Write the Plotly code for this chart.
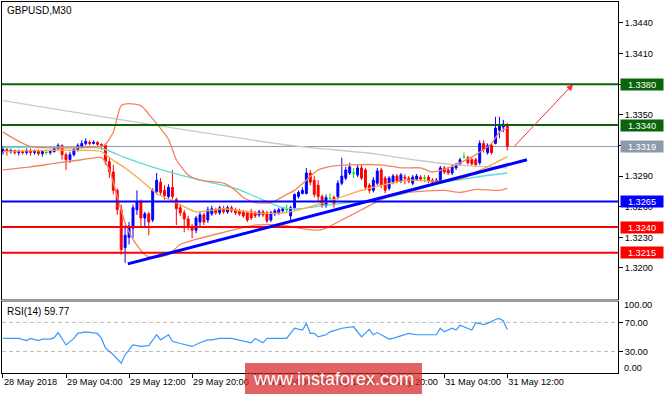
import pandas as pd
import plotly.graph_objects as go

chart_title = "GBPUSD,M30"
rsi_title = "RSI(14) 59.77"
first_bar = "2018-05-28 20:00"

# ---- OHLC (M30 bars) ----
open_ = [1.3314, 1.3316, 1.3314, 1.3315, 1.3313, 1.3314, 1.3313, 1.3315, 1.3313, 1.3314,
         1.3312, 1.3313, 1.3313, 1.3314, 1.3317, 1.3320, 1.3311, 1.3306, 1.3311, 1.3316,
         1.3319, 1.3322, 1.3323, 1.3322, 1.3323, 1.3321, 1.3320, 1.3304, 1.3294, 1.3276,
         1.3257, 1.3220, 1.3230, 1.3239, 1.3257, 1.3265, 1.3249, 1.3253, 1.3247, 1.3275,
         1.3284, 1.3276, 1.3270, 1.3279, 1.3267, 1.3259, 1.3254, 1.3248, 1.3240, 1.3237,
         1.3245, 1.3252, 1.3247, 1.3253, 1.3257, 1.3254, 1.3258, 1.3255, 1.3259, 1.3257,
         1.3256, 1.3255, 1.3254, 1.3255, 1.3254, 1.3252, 1.3255, 1.3254, 1.3247, 1.3253,
         1.3254, 1.3256, 1.3257, 1.3251, 1.3259, 1.3270, 1.3273, 1.3273, 1.3293, 1.3286,
         1.3281, 1.3270, 1.3261, 1.3268, 1.3269, 1.3270, 1.3283, 1.3288, 1.3293, 1.3293,
         1.3291, 1.3298, 1.3296, 1.3281, 1.3276, 1.3283, 1.3296, 1.3288, 1.3278, 1.3284,
         1.3290, 1.3285, 1.3289, 1.3288, 1.3283, 1.3287, 1.3289, 1.3288, 1.3289, 1.3286,
         1.3284, 1.3285, 1.3298, 1.3296, 1.3293, 1.3298, 1.3302, 1.3309, 1.3308, 1.3306,
         1.3306, 1.3303, 1.3322, 1.3313, 1.3320, 1.3322, 1.3335, 1.3338, 1.3340]
close_ = [1.3316, 1.3314, 1.3315, 1.3313, 1.3314, 1.3313, 1.3315, 1.3313, 1.3314, 1.3312,
          1.3314, 1.3313, 1.3314, 1.3317, 1.3320, 1.3311, 1.3306, 1.3311, 1.3316, 1.3320,
          1.3322, 1.3324, 1.3322, 1.3323, 1.3321, 1.3320, 1.3304, 1.3294, 1.3276, 1.3257,
          1.3218, 1.3232, 1.3241, 1.3259, 1.3265, 1.3249, 1.3253, 1.3245, 1.3276, 1.3286,
          1.3274, 1.3271, 1.3279, 1.3270, 1.3258, 1.3254, 1.3248, 1.3240, 1.3237, 1.3249,
          1.3252, 1.3245, 1.3257, 1.3258, 1.3254, 1.3259, 1.3255, 1.3259, 1.3256, 1.3254,
          1.3253, 1.3251, 1.3247, 1.3249, 1.3251, 1.3255, 1.3252, 1.3246, 1.3254, 1.3256,
          1.3257, 1.3258, 1.3257, 1.3259, 1.3272, 1.3274, 1.3276, 1.3293, 1.3284, 1.3272,
          1.3270, 1.3261, 1.3269, 1.3268, 1.3262, 1.3283, 1.3290, 1.3296, 1.3299, 1.3293,
          1.3298, 1.3288, 1.3279, 1.3276, 1.3286, 1.3295, 1.3281, 1.3276, 1.3288, 1.3290,
          1.3285, 1.3291, 1.3288, 1.3285, 1.3289, 1.3290, 1.3287, 1.3288, 1.3285, 1.3284,
          1.3286, 1.3298, 1.3294, 1.3293, 1.3299, 1.3301, 1.3306, 1.3309, 1.3303, 1.3302,
          1.3301, 1.3322, 1.3316, 1.3320, 1.3313, 1.3337, 1.3340, 1.3341, 1.3319]
high_ = [1.3319, 1.3318, 1.3317, 1.3316, 1.3316, 1.3315, 1.3317, 1.3317, 1.3316, 1.3316,
         1.3315, 1.3316, 1.3316, 1.3319, 1.3322, 1.3321, 1.3313, 1.3314, 1.3318, 1.3322,
         1.3325, 1.3327, 1.3325, 1.3325, 1.3324, 1.3322, 1.3322, 1.3308, 1.3301, 1.3278,
         1.3262, 1.3242, 1.3245, 1.3262, 1.3276, 1.3267, 1.3255, 1.3255, 1.3278, 1.3293,
         1.3288, 1.3281, 1.3282, 1.3296, 1.3269, 1.3262, 1.3257, 1.3251, 1.3243, 1.3251,
         1.3255, 1.3254, 1.3260, 1.3261, 1.3259, 1.3261, 1.3261, 1.3261, 1.3261, 1.3259,
         1.3258, 1.3257, 1.3256, 1.3258, 1.3256, 1.3257, 1.3257, 1.3256, 1.3256, 1.3258,
         1.3259, 1.3260, 1.3262, 1.3261, 1.3273, 1.3276, 1.3279, 1.3298, 1.3296, 1.3290,
         1.3286, 1.3272, 1.3272, 1.3273, 1.3271, 1.3286, 1.3308, 1.3299, 1.3303, 1.3298,
         1.3301, 1.3301, 1.3298, 1.3283, 1.3289, 1.3298, 1.3298, 1.3290, 1.3290, 1.3292,
         1.3292, 1.3293, 1.3292, 1.3290, 1.3291, 1.3292, 1.3291, 1.3291, 1.3291, 1.3288,
         1.3288, 1.3300, 1.3300, 1.3299, 1.3301, 1.3303, 1.3308, 1.3313, 1.3310, 1.3308,
         1.3308, 1.3325, 1.3325, 1.3322, 1.3322, 1.3348, 1.3348, 1.3345, 1.3342]
low_ = [1.3311, 1.3310, 1.3312, 1.3311, 1.3310, 1.3311, 1.3311, 1.3310, 1.3311, 1.3310,
        1.3309, 1.3311, 1.3311, 1.3313, 1.3315, 1.3306, 1.3296, 1.3303, 1.3309, 1.3314,
        1.3317, 1.3320, 1.3320, 1.3321, 1.3319, 1.3316, 1.3301, 1.3288, 1.3272, 1.3252,
        1.3213, 1.3205, 1.3223, 1.3229, 1.3252, 1.3239, 1.3239, 1.3232, 1.3245, 1.3272,
        1.3271, 1.3267, 1.3268, 1.3267, 1.3242, 1.3251, 1.3235, 1.3237, 1.3229, 1.3234,
        1.3241, 1.3242, 1.3244, 1.3251, 1.3252, 1.3252, 1.3253, 1.3253, 1.3254, 1.3252,
        1.3251, 1.3249, 1.3245, 1.3247, 1.3249, 1.3250, 1.3250, 1.3244, 1.3245, 1.3251,
        1.3252, 1.3254, 1.3254, 1.3247, 1.3257, 1.3268, 1.3272, 1.3272, 1.3281, 1.3269,
        1.3265, 1.3259, 1.3259, 1.3264, 1.3259, 1.3267, 1.3281, 1.3286, 1.3291, 1.3288,
        1.3289, 1.3286, 1.3276, 1.3273, 1.3274, 1.3281, 1.3278, 1.3273, 1.3276, 1.3282,
        1.3283, 1.3283, 1.3282, 1.3283, 1.3281, 1.3285, 1.3285, 1.3284, 1.3283, 1.3282,
        1.3282, 1.3283, 1.3292, 1.3291, 1.3291, 1.3296, 1.3300, 1.3307, 1.3301, 1.3300,
        1.3299, 1.3301, 1.3313, 1.3311, 1.3311, 1.3321, 1.3327, 1.3333, 1.3315]

# ---- indicator readings (bar index, value) ----
upper_bb_bar = [0, 7, 25, 26, 28, 30, 32, 35, 38, 42, 43, 44, 47, 50, 56, 59, 61, 64, 68, 72,
                74, 77, 80, 84, 88, 96, 101, 106, 109, 113, 116, 120, 124, 126, 128]
upper_bb = [1.3333, 1.3319, 1.3319, 1.3321, 1.3333, 1.3359, 1.3361, 1.3359, 1.3346, 1.3326,
            1.3316, 1.3306, 1.3291, 1.3286, 1.3283, 1.3276, 1.3269, 1.3264, 1.3264, 1.3272,
            1.3276, 1.3286, 1.3296, 1.3300, 1.3301, 1.3301, 1.3298, 1.3298, 1.3294, 1.3298,
            1.3303, 1.3311, 1.3322, 1.3333, 1.3337]
mid_bb_bar = [0, 25, 27, 31, 35, 39, 44, 49, 56, 64, 71, 75, 84, 91, 96, 103, 110, 117, 120, 124, 128]
mid_bb = [1.3314, 1.3314, 1.3308, 1.3298, 1.3286, 1.3273, 1.3264, 1.3255, 1.3258, 1.3254,
          1.3254, 1.3257, 1.3267, 1.3276, 1.3281, 1.3286, 1.3285, 1.3288, 1.3294, 1.3301, 1.3309]
lower_bb_bar = [0, 7, 14, 20, 25, 27, 29, 31, 33, 36, 38, 42, 45, 50, 55, 64, 71, 75, 80, 82,
                86, 91, 96, 101, 106, 112, 116, 120, 126, 128]
lower_bb = [1.3296, 1.3299, 1.3303, 1.3306, 1.3308, 1.3296, 1.3270, 1.3244, 1.3228, 1.3213,
            1.3210, 1.3213, 1.3223, 1.3229, 1.3234, 1.3242, 1.3242, 1.3239, 1.3237, 1.3239,
            1.3247, 1.3257, 1.3267, 1.3273, 1.3275, 1.3276, 1.3274, 1.3277, 1.3276, 1.3278]
ma_fast_bar = [0, 25, 31, 37, 48, 59, 64, 71, 75, 83, 96, 101, 110, 120, 128]
ma_fast = [1.3318, 1.3317, 1.3308, 1.3300, 1.3288, 1.3278, 1.3270, 1.3259, 1.3258, 1.3262,
           1.3268, 1.3272, 1.3282, 1.3289, 1.3293]
ma_slow_bar = [0, 27, 50, 75, 94, 106, 115, 128]
ma_slow = [1.3364, 1.3347, 1.3333, 1.3319, 1.3312, 1.3305, 1.3301, 1.3298]

rsi_bar = [0, 4, 6, 7, 9, 10, 12, 13, 14, 16, 18, 19, 21, 23, 24, 25, 26, 28, 30, 31,
           33, 35, 37, 39, 40, 42, 43, 45, 48, 50, 52, 53, 55, 58, 60, 63, 64, 66, 67, 70,
           72, 74, 76, 77, 78, 79, 80, 82, 83, 86, 89, 91, 93, 94, 95, 98, 99, 103, 105, 110,
           111, 112, 114, 115, 116, 119, 120, 122, 123, 125, 126, 127, 128]
rsi = [48, 48, 45, 48, 45, 47, 47, 49, 56, 39, 48, 55, 57, 55, 55, 48, 35, 25.5, 14, 25.5,
       39, 37, 38, 53, 46, 53, 44, 41, 37, 42, 46, 46, 48, 48, 46, 42, 48, 42, 48, 48,
       48, 62, 59.5, 68.6, 55, 55, 50, 53, 57, 62, 64, 50, 60.5, 53, 56, 47, 48, 55, 53, 53,
       62, 57, 62, 59.5, 66, 59.5, 69.5, 67, 68.6, 74, 75.4, 72, 59.77]

# ---- levels and drawings ----
level_prices = [1.3380, 1.3340, 1.3265, 1.3240, 1.3215]
level_colors = ["#0A640A", "#0A640A", "#0000FF", "#FF0000", "#FF0000"]
current_price = 1.3319
current_color = "#8E9AAB"
trend_bars = [31.7, 133.0]
trend_prices = [1.3204, 1.3306]
arrow_bars = [129.5, 144.7]
arrow_prices = [1.3318, 1.3380]

price_ticks = [1.3200, 1.3230, 1.3260, 1.3290, 1.3320, 1.3350, 1.3380, 1.3410, 1.3440]
price_tick_labels = ["1.3200", "1.3230", "1.3260", "1.3290", "", "1.3350", "", "1.3410", "1.3440"]
price_range = [1.31696, 1.34605]
rsi_range = [0.5, 98]
rsi_levels = [70, 30]

x_tick_times = ["2018-05-28 20:00", "2018-05-29 04:00", "2018-05-29 12:00", "2018-05-29 20:00",
                "2018-05-30 04:00", "2018-05-30 12:00", "2018-05-30 20:00", "2018-05-31 04:00",
                "2018-05-31 12:00"]
x_tick_labels = ["28 May 2018", "29 May 04:00", "29 May 12:00", "29 May 20:00", "30 May 04:00",
                 "30 May 12:00", "30 May 20:00", "31 May 04:00", "31 May 12:00"]
x_range_bars = [-0.25, 156.1]

watermark = "www.instaforex.com"

# ---------------------------------------------------------------
t0 = pd.Timestamp(first_bar)
step = pd.Timedelta(minutes=30)


def bt(i):
    return t0 + step * i


times = [bt(i) for i in range(len(close_))]
FONT = "Liberation Sans, Arial, sans-serif"
TICK_SIZE = 9.2

fig = go.Figure()

normal = [i for i in range(len(close_)) if open_[i] != close_[i]]
doji = [i for i in range(len(close_)) if open_[i] == close_[i]]

fig.add_trace(go.Candlestick(
    x=[times[i] for i in normal], open=[open_[i] for i in normal], high=[high_[i] for i in normal],
    low=[low_[i] for i in normal], close=[close_[i] for i in normal],
    increasing=dict(line=dict(color="#0000FF", width=1), fillcolor="#0000FF"),
    decreasing=dict(line=dict(color="#FF0000", width=1), fillcolor="#FF0000"),
    xaxis="x", yaxis="y", showlegend=False, hoverinfo="skip"))
fig.add_trace(go.Candlestick(
    x=[times[i] for i in doji], open=[open_[i] for i in doji], high=[high_[i] for i in doji],
    low=[low_[i] for i in doji], close=[close_[i] for i in doji],
    increasing=dict(line=dict(color="#00E000", width=1), fillcolor="#00E000"),
    decreasing=dict(line=dict(color="#00E000", width=1), fillcolor="#00E000"),
    xaxis="x", yaxis="y", showlegend=False, hoverinfo="skip"))


def add_line(bars, vals, color, width=1):
    fig.add_trace(go.Scatter(x=[bt(b) for b in bars], y=vals, mode="lines",
                             line=dict(color=color, width=width, shape="spline", smoothing=0.6),
                             xaxis="x", yaxis="y", showlegend=False, hoverinfo="skip"))


add_line(ma_slow_bar, ma_slow, "#C8C8C8", 1.3)
add_line(ma_fast_bar, ma_fast, "#5FD9D9", 1.3)
add_line(upper_bb_bar, upper_bb, "#F4845F", 1.3)
add_line(lower_bb_bar, lower_bb, "#F4845F", 1.3)
add_line(mid_bb_bar, mid_bb, "#FFA640", 1.3)

fig.add_trace(go.Scatter(x=[bt(b) for b in rsi_bar], y=rsi, mode="lines",
                         line=dict(color="#3399FF", width=1.2),
                         xaxis="x2", yaxis="y2", showlegend=False, hoverinfo="skip"))

# geometry (pixels -> paper)
W, H = 665, 394
ml, mr, mt, mb = 2, 47, 2, 21
pw, ph = W - ml - mr, H - mt - mb


def py(yp):
    return (H - mb - yp) / ph


def px(xp):
    return (xp - ml) / pw


main_dom = [py(299), 1.0]
rsi_dom = [0.0, py(302)]

shapes = []
# separator band between panels
shapes.append(dict(type="rect", xref="paper", yref="paper", x0=0, x1=1, y0=py(302), y1=py(299),
                   fillcolor="#9A9A9A", line=dict(width=0), layer="above"))
shapes.append(dict(type="line", xref="paper", yref="y", x0=0, x1=1, y0=current_price,
                   y1=current_price, line=dict(color=current_color, width=1), layer="below"))
for p, c in zip(level_prices, level_colors):
    shapes.append(dict(type="line", xref="paper", yref="y", x0=0, x1=1, y0=p, y1=p,
                       line=dict(color=c, width=2), layer="above"))
shapes.append(dict(type="line", xref="x", yref="y", x0=bt(trend_bars[0]), x1=bt(trend_bars[1]),
                   y0=trend_prices[0], y1=trend_prices[1],
                   line=dict(color="#0000FF", width=3), layer="above"))
for lv in rsi_levels:
    shapes.append(dict(type="line", xref="paper", yref="y2", x0=0, x1=1, y0=lv, y1=lv,
                       line=dict(color="#BDBDBD", width=1, dash="4px,3px"), layer="below"))
# watermark box
shapes.append(dict(type="rect", xref="paper", yref="paper", x0=px(245), x1=px(422),
                   y0=py(394), y1=py(363), fillcolor="rgba(214,38,38,0.72)",
                   line=dict(width=0), layer="above"))

annotations = []
annotations.append(dict(xref="paper", yref="paper", x=px(5), y=py(10), xanchor="left",
                        yanchor="middle", text=chart_title, showarrow=False,
                        font=dict(family=FONT, size=10, color="#000000")))
annotations.append(dict(xref="paper", yref="paper", x=px(5), y=py(311), xanchor="left",
                        yanchor="middle", text=rsi_title, showarrow=False,
                        font=dict(family=FONT, size=10, color="#000000")))
for p, c in zip(level_prices, level_colors):
    annotations.append(dict(xref="paper", yref="y", x=1, y=p, xanchor="left", yanchor="middle",
                            xshift=2, text=f"{p:.4f}", showarrow=False, bgcolor=c,
                            width=42, height=11, borderpad=0,
                            font=dict(family=FONT, size=TICK_SIZE, color="#FFFFFF")))
annotations.append(dict(xref="paper", yref="y", x=1, y=current_price, xanchor="left",
                        yanchor="middle", xshift=2, text=f"{current_price:.4f}", showarrow=False,
                        bgcolor=current_color, width=42, height=11, borderpad=0,
                        font=dict(family=FONT, size=TICK_SIZE, color="#FFFFFF")))
annotations.append(dict(xref="x", yref="y", axref="x", ayref="y",
                        x=bt(arrow_bars[1]), y=arrow_prices[1],
                        ax=bt(arrow_bars[0]), ay=arrow_prices[0],
                        text="", showarrow=True, arrowhead=2, arrowsize=1.3, arrowwidth=1,
                        arrowcolor="#FF2A2A", standoff=0))
for txt, v in [("100.00", 93.8), ("0.00", 7.3)]:
    annotations.append(dict(xref="paper", yref="y2", x=1, y=v, xanchor="left", yanchor="middle",
                            xshift=4, text=txt, showarrow=False,
                            font=dict(family=FONT, size=TICK_SIZE, color="#000000")))
annotations.append(dict(xref="paper", yref="paper", x=px(333), y=py(379), xanchor="center",
                        yanchor="middle", text=watermark, showarrow=False,
                        font=dict(family=FONT, size=18, color="#FFFFFF")))

xr = [bt(x_range_bars[0]), bt(x_range_bars[1])]
axis_common = dict(showgrid=False, zeroline=False, showline=True, linecolor="#000000",
                   linewidth=1, mirror=True, automargin=False)

fig.update_layout(
    width=W, height=H, margin=dict(l=ml, r=mr, t=mt, b=mb, autoexpand=False),
    paper_bgcolor="#FFFFFF", plot_bgcolor="#FFFFFF", showlegend=False,
    font=dict(family=FONT, size=10, color="#000000"),
    xaxis=dict(domain=[0, 1], anchor="y", range=xr, type="date", showticklabels=False,
               ticks="", rangeslider=dict(visible=False), **axis_common),
    xaxis2=dict(domain=[0, 1], anchor="y2", range=xr, type="date", matches="x",
                tickmode="array", tickvals=[pd.Timestamp(t) for t in x_tick_times],
                ticktext=x_tick_labels, ticks="outside", ticklen=4, tickcolor="#000000",
                tickangle=0, ticklabelposition="outside right",
                tickfont=dict(family=FONT, size=TICK_SIZE),
                rangeslider=dict(visible=False), **axis_common),
    yaxis=dict(domain=main_dom, anchor="x", range=price_range, side="right",
               tickmode="array", tickvals=price_ticks,
               ticktext=price_tick_labels, ticks="outside", ticklen=4,
               tickcolor="#000000", tickfont=dict(family=FONT, size=TICK_SIZE), **axis_common),
    yaxis2=dict(domain=rsi_dom, anchor="x2", range=rsi_range, side="right",
                tickmode="array", tickvals=rsi_levels,
                ticktext=[f"{v:.2f}" for v in rsi_levels], ticks="outside", ticklen=4,
                tickcolor="#000000", tickfont=dict(family=FONT, size=TICK_SIZE), **axis_common),
    shapes=shapes, annotations=annotations,
)

fig.write_html("out.html")
